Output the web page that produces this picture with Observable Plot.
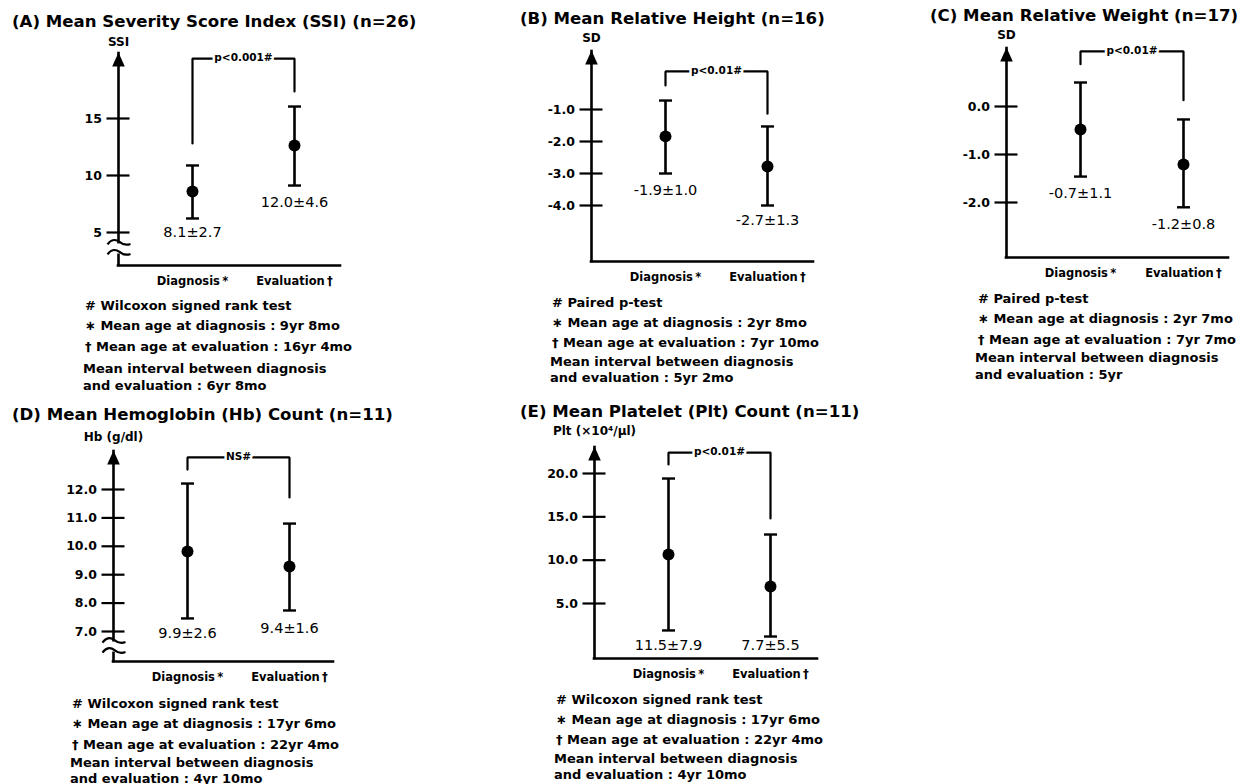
<!DOCTYPE html>
<html><head><meta charset="utf-8">
<script src="https://cdn.jsdelivr.net/npm/d3@7"></script>
<script src="https://cdn.jsdelivr.net/npm/@observablehq/plot@0.6"></script>
<style>
html,body{margin:0;padding:0;background:#fff}
#root{position:relative;width:1247px;height:784px;overflow:hidden;background:#fff;font-family:"DejaVu Sans",sans-serif;color:#000}
.title{position:absolute;font-size:16.6px;font-weight:bold;white-space:nowrap;line-height:1;transform:translateY(-50%)}
.note{position:absolute;font-size:13px;font-weight:bold;white-space:nowrap;line-height:1;transform:translateY(-50%)}
.panel{position:absolute}
</style></head><body><div id="root"></div>
<script>
// ---------- data ----------
const categories = ["Diagnosis\u2009*", "Evaluation\u2009†"];

// (A) Severity Score Index
const ssiMean = [8.60, 12.63];
const ssiLow = [6.23, 9.12];
const ssiHigh = [10.88, 16.05];
const ssiText = ["8.1±2.7", "12.0±4.6"];
const ssiTicks = [5, 10, 15];
const ssiBracket = [12.81, 20.26, 17.37];
const ssiTest = "p<0.001#";
const ssiNotes = ["# Wilcoxon signed rank test", "∗ Mean age at diagnosis : 9yr 8mo", "† Mean age at evaluation : 16yr 4mo", "Mean interval between diagnosis", "and evaluation : 6yr 8mo"];

// (B) Relative Height
const heightMean = [-1.84, -2.78];
const heightLow = [-3.0, -4.0];
const heightHigh = [-0.72, -1.53];
const heightText = ["-1.9±1.0", "-2.7±1.3"];
const heightTicks = [-1, -2, -3, -4];
const heightBracket = [-0.25, 0.19, -1.13];
const heightTest = "p<0.01#";
const heightNotes = ["# Paired p-test", "∗ Mean age at diagnosis : 2yr 8mo", "† Mean age at evaluation : 7yr 10mo", "Mean interval between diagnosis", "and evaluation : 5yr 2mo"];

// (C) Relative Weight
const weightMean = [-0.48, -1.21];
const weightLow = [-1.46, -2.10];
const weightHigh = [0.50, -0.27];
const weightText = ["-0.7±1.1", "-1.2±0.8"];
const weightTicks = [0, -1, -2];
const weightBracket = [0.88, 1.15, 0.13];
const weightTest = "p<0.01#";
const weightNotes = ["# Paired p-test", "∗ Mean age at diagnosis : 2yr 7mo", "† Mean age at evaluation : 7yr 7mo", "Mean interval between diagnosis", "and evaluation : 5yr"];

// (D) Hemoglobin
const hbMean = [9.82, 9.29];
const hbLow = [7.46, 7.74];
const hbHigh = [12.21, 10.80];
const hbText = ["9.9±2.6", "9.4±1.6"];
const hbTicks = [7, 8, 9, 10, 11, 12];
const hbBracket = [12.70, 13.13, 11.72];
const hbTest = "NS#";
const hbNotes = ["# Wilcoxon signed rank test", "∗ Mean age at diagnosis : 17yr 6mo", "† Mean age at evaluation : 22yr 4mo", "Mean interval between diagnosis", "and evaluation : 4yr 10mo"];

// (E) Platelet
const pltMean = [10.65, 6.96];
const pltLow = [1.89, 1.19];
const pltHigh = [19.42, 12.96];
const pltText = ["11.5±7.9", "7.7±5.5"];
const pltTicks = [5, 10, 15, 20];
const pltBracket = [21.04, 22.42, 14.81];
const pltTest = "p<0.01#";
const pltNotes = ["# Wilcoxon signed rank test", "∗ Mean age at diagnosis : 17yr 6mo", "† Mean age at evaluation : 22yr 4mo", "Mean interval between diagnosis", "and evaluation : 4yr 10mo"];

// ---------- layout (page pixels) ----------
const panels = [
  {title: "(A) Mean Severity Score Index (SSI) (n=26)", titlePos: [12, 22], yLabel: "SSI", yLabelDy: -11,
   mean: ssiMean, low: ssiLow, high: ssiHigh, text: ssiText, ticks: ssiTicks, decimals: 0, bracket: ssiBracket, test: ssiTest,
   notes: ssiNotes, notePos: [85, 83, [305, 325, 346, 368, 385]], breakAt: 3.6,
   box: [0, 20, 420, 275], frame: [118, 53, 340, 265], xPos: [192, 294], calib: [[5, 232], [15, 118]], labelDy: [14, 17]},
  {title: "(B) Mean Relative Height (n=16)", titlePos: [520, 19], yLabel: "SD", yLabelDy: -13,
   mean: heightMean, low: heightLow, high: heightHigh, text: heightText, ticks: heightTicks, decimals: 1, bracket: heightBracket, test: heightTest,
   notes: heightNotes, notePos: [552, 550, [302, 322, 342, 361, 377]], breakAt: null,
   box: [420, 20, 430, 275], frame: [591, 51, 813, 261], xPos: [665, 767], calib: [[-1, 109], [-4, 205]], labelDy: [17, 15]},
  {title: "(C) Mean Relative Weight (n=17)", titlePos: [930, 16], yLabel: "SD", yLabelDy: -13,
   mean: weightMean, low: weightLow, high: weightHigh, text: weightText, ticks: weightTicks, decimals: 1, bracket: weightBracket, test: weightTest,
   notes: weightNotes, notePos: [978, 975, [298, 318, 339, 357, 374]], breakAt: null,
   box: [850, 20, 397, 275], frame: [1006, 48, 1228, 257], xPos: [1080, 1183], calib: [[0, 106], [-2, 202]], labelDy: [17, 17]},
  {title: "(D) Mean Hemoglobin (Hb) Count (n=11)", titlePos: [12, 415], yLabel: "Hb (g/dl)", yLabelDy: -14,
   mean: hbMean, low: hbLow, high: hbHigh, text: hbText, ticks: hbTicks, decimals: 1, bracket: hbBracket, test: hbTest,
   notes: hbNotes, notePos: [72, 70, [703, 723, 744, 762, 778]], breakAt: 6.47,
   box: [0, 420, 420, 270], frame: [113, 451, 333, 661], xPos: [187, 289], calib: [[12, 489], [7, 631]], labelDy: [15, 18]},
  {title: "(E) Mean Platelet (Plt) Count (n=11)", titlePos: [520, 412], yLabel: "Plt (×10⁴/μl)", yLabelDy: -16,
   mean: pltMean, low: pltLow, high: pltHigh, text: pltText, ticks: pltTicks, decimals: 1, bracket: pltBracket, test: pltTest,
   notes: pltNotes, notePos: [556, 554, [699, 719, 739, 758, 774]], breakAt: null,
   box: [420, 420, 430, 270], frame: [594, 447, 817, 658], xPos: [668, 770], calib: [[20, 473], [5, 603]], labelDy: [15, 9]}
];

// ---------- symbols ----------
const arrowSym = {draw(ctx) { ctx.moveTo(0, -1); ctx.lineTo(6.3, 13); ctx.lineTo(-6.3, 13); ctx.closePath(); }};
const capSym = {draw(ctx) { ctx.moveTo(-6.5, 0); ctx.lineTo(6.5, 0); }};
const knockSym = {draw(ctx) { ctx.rect(-3, -5, 6, 10); }};
const waveSym = {draw(ctx) {
  ctx.moveTo(-11, -4); ctx.bezierCurveTo(-7, -10, -2, -9, 1, -6.5); ctx.bezierCurveTo(4, -4, 8, -3, 12, -4.5);
  ctx.moveTo(-11, 6); ctx.bezierCurveTo(-7, 0, -2, 1, 1, 3.5); ctx.bezierCurveTo(4, 6, 8, 7, 12, 5.5);
}};

const root = document.getElementById("root");

function addText(cls, txt, x, y) {
  const d = document.createElement("div");
  d.className = cls; d.textContent = txt;
  d.style.left = x + "px"; d.style.top = y + "px";
  root.appendChild(d);
}

for (const p of panels) {
  const [bx, by, bw, bh] = p.box;
  const [fl, ft, fr, fb] = p.frame;
  const [[v1, p1], [v2, p2]] = p.calib;
  const yAt = py => v1 + (py - p1) * (v2 - v1) / (p2 - p1);
  const xAt = px => 1 + (px - p.xPos[0]) / (p.xPos[1] - p.xPos[0]);
  const yDomain = [yAt(fb), yAt(ft)];
  const xDomain = [xAt(fl), xAt(fr)];
  const rows = categories.map((c, i) => ({x: i + 1, mean: p.mean[i], lo: p.low[i], hi: p.high[i], label: p.text[i]}));
  const br = p.bracket;
  const bracketPts = [{x: 1, y: br[0]}, {x: 1, y: br[1]}, {x: 2, y: br[1]}, {x: 2, y: br[2]}];

  const marks = [
    Plot.ruleX([xDomain[0]], {strokeWidth: 2.6, strokeLinecap: "square"}),
    Plot.ruleY([yDomain[0]], {strokeWidth: 2.6, strokeLinecap: "square"}),
  ];
  if (p.breakAt != null) {
    marks.push(Plot.dot([{x: xDomain[0], y: p.breakAt}], {x: "x", y: "y", r: 5, symbol: knockSym, fill: "white", stroke: "none"}));
    marks.push(Plot.dot([{x: xDomain[0], y: p.breakAt}], {x: "x", y: "y", r: 5, symbol: waveSym, fill: "none", stroke: "black", strokeWidth: 2.2}));
  }
  marks.push(
    Plot.dot([{x: xDomain[0], y: yDomain[1]}], {x: "x", y: "y", r: 5, symbol: arrowSym, fill: "black", stroke: "none"}),
    Plot.axisY({ticks: p.ticks, tickFormat: d => d.toFixed(p.decimals), tickSize: 23, dx: 11.5, tickPadding: 5,
      strokeWidth: 2.2, fontSize: 12.5, fontWeight: "bold", label: null}),
    Plot.axisX({ticks: [1, 2], tickFormat: i => categories[i - 1], tickSize: 0, tickPadding: 11,
      fontSize: 11.5, fontWeight: "bold", label: null}),
    Plot.line(bracketPts, {x: "x", y: "y", strokeWidth: 2.2, strokeLinejoin: "miter", curve: "linear"}),
    Plot.text([{x: 1.5, y: br[1], t: p.test}], {x: "x", y: "y", text: "t", fontSize: 10.5, fontWeight: "bold",
      fill: "black", stroke: "white", strokeWidth: 5, paintOrder: "stroke", dy: -1}),
    Plot.ruleX(rows, {x: "x", y1: "lo", y2: "hi", strokeWidth: 2.6}),
    Plot.dot(rows, {x: "x", y: "lo", r: 5, symbol: capSym, fill: "none", stroke: "black", strokeWidth: 2.4}),
    Plot.dot(rows, {x: "x", y: "hi", r: 5, symbol: capSym, fill: "none", stroke: "black", strokeWidth: 2.4}),
    Plot.dot(rows, {x: "x", y: "mean", r: 6, fill: "black", stroke: "none"}),
    ...rows.map((r, i) => Plot.text([r], {x: "x", y: "lo", text: "label", dy: p.labelDy[i], fontSize: 14.5, lineAnchor: "middle", fill: "black"})),
    Plot.text([{x: xDomain[0], y: yDomain[1], t: p.yLabel}], {x: "x", y: "y", text: "t", dy: p.yLabelDy, fontSize: 12, fontWeight: "bold", lineAnchor: "middle"})
  );

  const chart = Plot.plot({
    width: bw, height: bh,
    marginLeft: fl - bx, marginRight: bx + bw - fr, marginTop: ft - by, marginBottom: by + bh - fb,
    x: {domain: xDomain},
    y: {domain: yDomain},
    style: {fontFamily: "'DejaVu Sans', sans-serif", background: "transparent", overflow: "visible", color: "black"},
    marks
  });
  chart.classList.add("panel");
  chart.style.left = bx + "px";
  chart.style.top = by + "px";
  root.appendChild(chart);

  addText("title", p.title, p.titlePos[0], p.titlePos[1]);
  const [nx1, nx2, ys] = p.notePos;
  p.notes.forEach((t, i) => addText("note", t, i < 3 ? nx1 : nx2, ys[i]));
}
</script>
</body></html>
